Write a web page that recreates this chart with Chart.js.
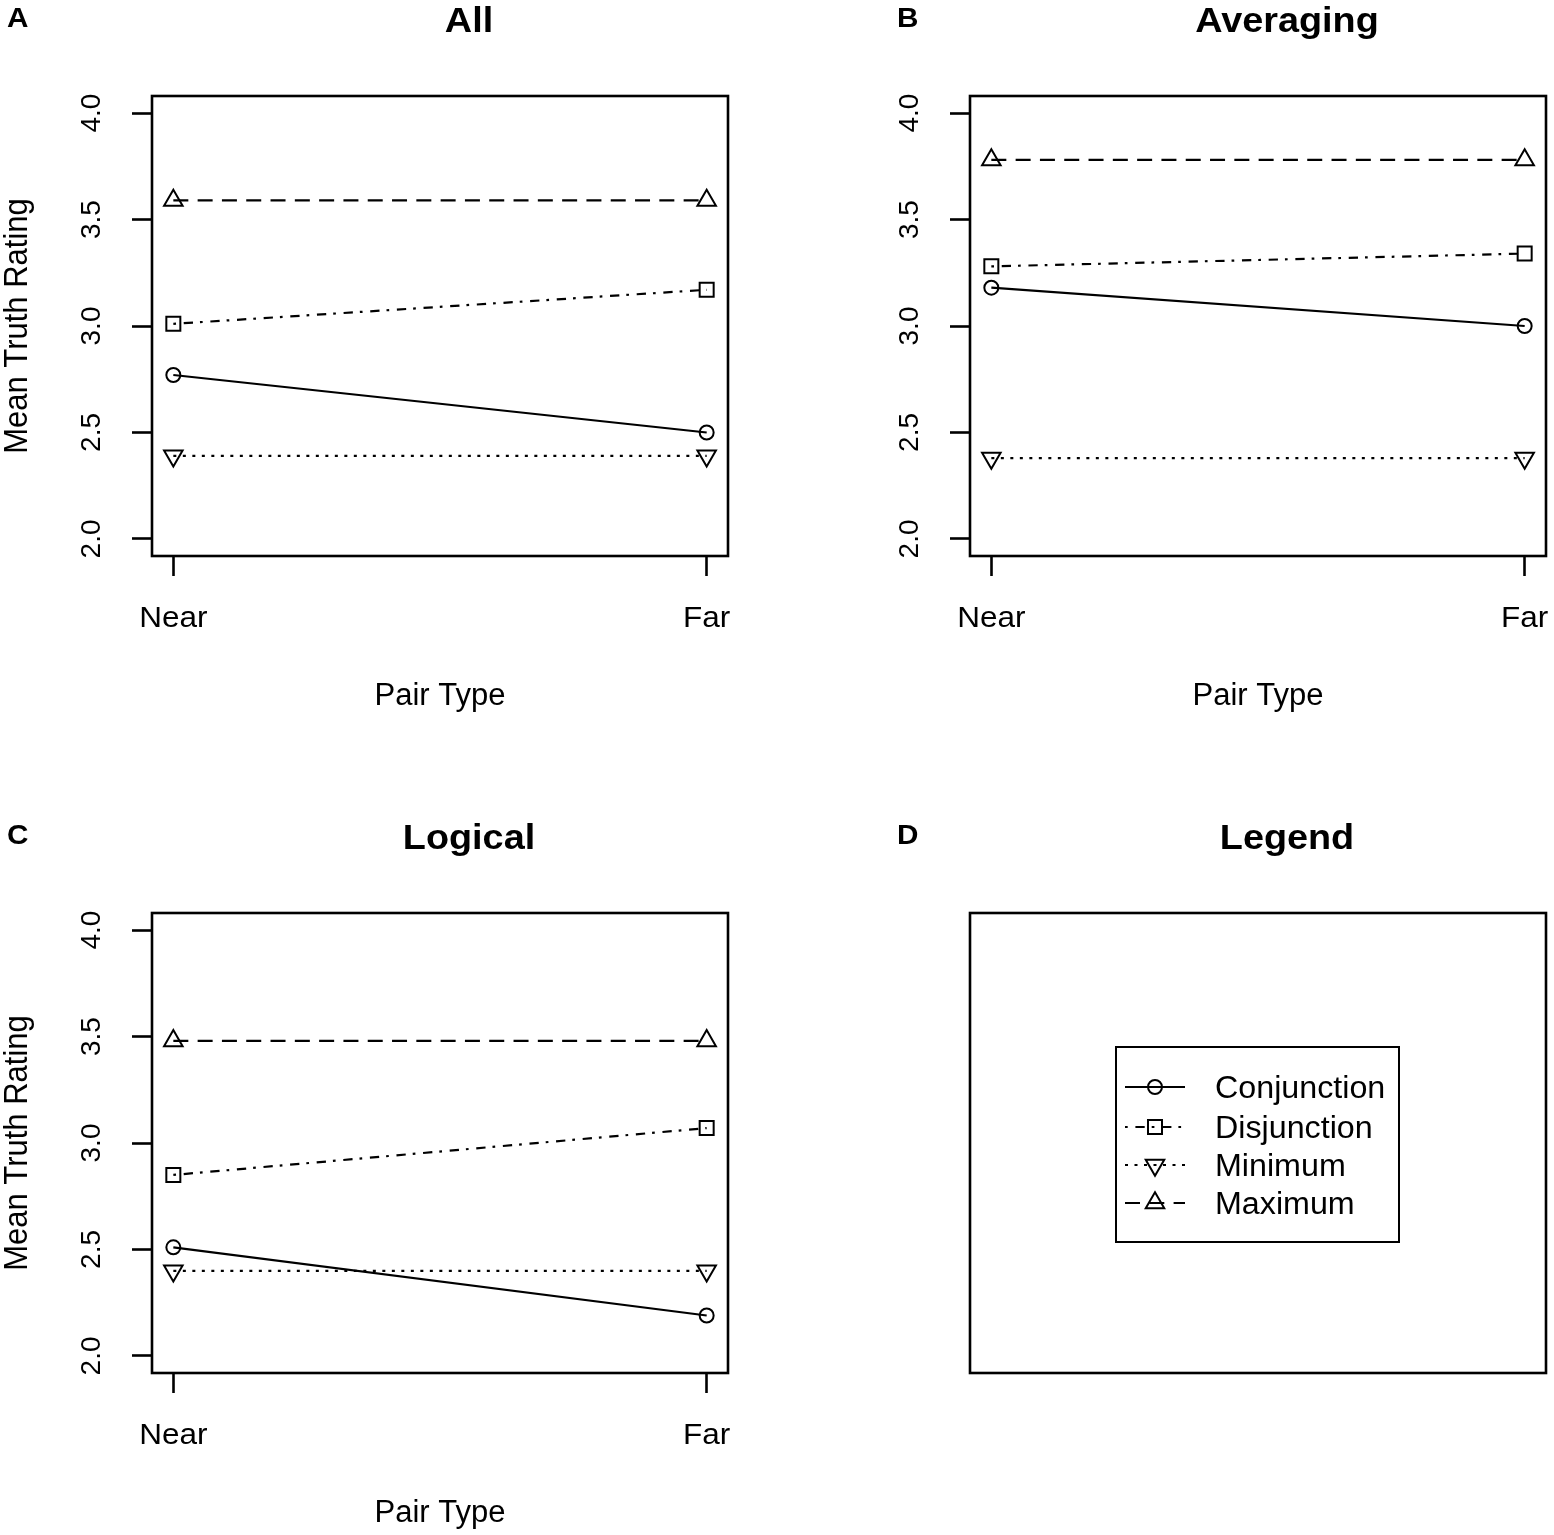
<!DOCTYPE html>
<html>
<head>
<meta charset="utf-8">
<title>Mean Truth Rating by Pair Type</title>
<script src="https://cdn.jsdelivr.net/npm/chart.js@4.4.1/dist/chart.umd.min.js"></script>
<style>
  html, body { margin: 0; padding: 0; background: #fff; overflow: hidden; }
  #fig { position: relative; width: 1554px; height: 1535px; overflow: hidden; background: #fff; }
  #fig canvas { position: absolute; }
</style>
</head>
<body>
<div id="fig">
  <canvas id="panelA" width="818" height="817" style="left:0;top:0"></canvas>
  <canvas id="panelB" width="818" height="817" style="left:818px;top:0"></canvas>
  <canvas id="panelC" width="818" height="817" style="left:0;top:817px"></canvas>
  <canvas id="panelD" width="818" height="817" style="left:818px;top:817px"></canvas>
</div>
<script>
// --- Data
var pairTypes = ["Near", "Far"];
var pairPos = [1, 2];
var yTicks = [2.0, 2.5, 3.0, 3.5, 4.0];
var seriesNames = ["Conjunction", "Disjunction", "Minimum", "Maximum"];

// A: All
var allConj = [2.77, 2.50];
var allDisj = [3.01, 3.17];
var allMin = [2.39, 2.39];
var allMax = [3.59, 3.59];

// B: Averaging
var avgConj = [3.18, 3.00];
var avgDisj = [3.28, 3.34];
var avgMin = [2.38, 2.38];
var avgMax = [3.78, 3.78];

// C: Logical
var logConj = [2.51, 2.19];
var logDisj = [2.85, 3.07];
var logMin = [2.40, 2.40];
var logMax = [3.48, 3.48];

var panelTitles = ["All", "Averaging", "Logical", "Legend"];
var panelLetters = ["A", "B", "C", "D"];
var xTitle = "Pair Type";
var yTitle = "Mean Truth Rating";

(function () {
  "use strict";

  var FONT = "'Liberation Sans', Arial, Helvetica, sans-serif";

  // line type + plotting symbol per series (R style lty / pch)
  var seriesStyle = [
    { point: "circle", rot: 0, radius: 7, dash: [] },
    { point: "rect", rot: 0, radius: 9.9, dash: [2.7, 7.7, 9.3, 7] },
    { point: "triangle", rot: 180, radius: 10.7, dash: [3, 6.5] },
    { point: "triangle", rot: 0, radius: 10.7, dash: [15, 9.3] }
  ];

  function drawText(ctx, s, x, y, font, align, rot, sx) {
    ctx.save();
    ctx.translate(x, y);
    ctx.scale(sx || 1, 1);
    ctx.rotate(rot || 0);
    ctx.font = font;
    ctx.textAlign = align;
    ctx.textBaseline = "alphabetic";
    ctx.fillStyle = "#000";
    ctx.fillText(s, 0, 0);
    ctx.restore();
  }

  function drawMarker(ctx, k, x, y) {
    var st = seriesStyle[k];
    ctx.save();
    ctx.setLineDash([]);
    ctx.strokeStyle = "#000";
    ctx.fillStyle = "rgba(0,0,0,0)";
    ctx.lineWidth = 2;
    Chart.helpers.drawPoint(ctx, { pointStyle: st.point, rotation: st.rot, radius: st.radius, borderWidth: 2 }, x, y);
    ctx.restore();
  }

  // --- Box, titles, tick labels, axis titles, legend
  var panelDecor = {
    id: "panelDecor",
    afterDraw: function (chart, args, opts) {
      var ctx = chart.ctx;
      var a = chart.chartArea;
      ctx.save();
      ctx.setLineDash([]);
      ctx.strokeStyle = "#000";
      ctx.lineWidth = 2.6;
      ctx.strokeRect(a.left, a.top, a.right - a.left, a.bottom - a.top);
      ctx.restore();

      drawText(ctx, opts.letter, opts.letterX, 27, "bold 27px " + FONT, "left", 0, 1.1);
      drawText(ctx, opts.title, 469, 32, "bold 35px " + FONT, "center", 0, 1.08);

      if (opts.axes) {
        var xs = chart.scales.x, ys = chart.scales.y;
        pairTypes.forEach(function (t, i) {
          drawText(ctx, t, xs.getPixelForValue(pairPos[i]), 627, "30px " + FONT, "center", 0, 1.05);
        });
        drawText(ctx, xTitle, (a.left + a.right) / 2, 705, "31px " + FONT, "center", 0, 1);
        yTicks.forEach(function (v) {
          drawText(ctx, v.toFixed(1), 100, ys.getPixelForValue(v), "28px " + FONT, "center", -Math.PI / 2, 1.02);
        });
        if (opts.yTitle) {
          drawText(ctx, yTitle, 27, (a.top + a.bottom) / 2, "31px " + FONT, "center", -Math.PI / 2, 1.08);
        }
      }

      if (opts.legend) {
        ctx.save();
        ctx.strokeStyle = "#000";
        ctx.lineWidth = 2;
        ctx.strokeRect(298, 230, 283, 195);
        var rowY = [270, 310, 348, 386];
        seriesNames.forEach(function (name, k) {
          ctx.save();
          ctx.setLineDash(seriesStyle[k].dash);
          ctx.lineWidth = 2.2;
          ctx.beginPath();
          ctx.moveTo(307, rowY[k]);
          ctx.lineTo(367, rowY[k]);
          ctx.stroke();
          ctx.restore();
          drawMarker(ctx, k, 337, rowY[k]);
          drawText(ctx, name, 397, rowY[k] + 11, "31px " + FONT, "left", 0, 1.04);
        });
        ctx.restore();
      }
    }
  };

  function buildDatasets(series) {
    return series.map(function (vals, k) {
      var st = seriesStyle[k];
      return {
        label: seriesNames[k],
        data: pairPos.map(function (p, i) { return { x: p, y: vals[i] }; }),
        borderColor: "#000",
        borderWidth: 2.2,
        borderDash: st.dash,
        tension: 0,
        pointStyle: st.point,
        pointRotation: st.rot,
        pointRadius: st.radius,
        pointBorderWidth: 2,
        pointBorderColor: "#000",
        pointBackgroundColor: "rgba(0,0,0,0)"
      };
    });
  }

  var tickGrid = {
    display: true,
    drawOnChartArea: false,
    drawTicks: true,
    tickLength: 20,
    tickWidth: 2.6,
    tickColor: "#000"
  };

  function makePanel(id, idx, series, showYTitle, letterX) {
    return new Chart(document.getElementById(id), {
      type: "line",
      data: { datasets: buildDatasets(series) },
      options: {
        responsive: false,
        animation: false,
        events: [],
        layout: { autoPadding: false, padding: { left: 0, top: 96, right: 90, bottom: 0 } },
        plugins: {
          legend: { display: false },
          tooltip: { enabled: false },
          title: { display: false },
          panelDecor: { letter: panelLetters[idx], letterX: letterX, title: panelTitles[idx], axes: true, yTitle: showYTitle }
        },
        scales: {
          x: {
            type: "linear",
            min: 0.96,
            max: 2.04,
            afterBuildTicks: function (s) { s.ticks = pairPos.map(function (v) { return { value: v }; }); },
            afterFit: function (s) { s.height = 261; },
            ticks: { display: false },
            grid: tickGrid,
            border: { display: false }
          },
          y: {
            type: "linear",
            min: 1.92,
            max: 4.08,
            afterBuildTicks: function (s) { s.ticks = yTicks.map(function (v) { return { value: v }; }); },
            afterFit: function (s) { s.width = 152; },
            ticks: { display: false },
            grid: tickGrid,
            border: { display: false }
          }
        }
      },
      plugins: [panelDecor]
    });
  }

  makePanel("panelA", 0, [allConj, allDisj, allMin, allMax], true, 7);
  makePanel("panelB", 1, [avgConj, avgDisj, avgMin, avgMax], false, 79);
  makePanel("panelC", 2, [logConj, logDisj, logMin, logMax], true, 7);

  // --- D: legend only
  new Chart(document.getElementById("panelD"), {
    type: "line",
    data: { datasets: [] },
    options: {
      responsive: false,
      animation: false,
      events: [],
      layout: { autoPadding: false, padding: { left: 152, top: 96, right: 90, bottom: 261 } },
      plugins: {
        legend: { display: false },
        tooltip: { enabled: false },
        panelDecor: { letter: panelLetters[3], letterX: 79, title: panelTitles[3], axes: false, legend: true }
      },
      scales: {
        x: { type: "linear", display: false, min: 0, max: 1 },
        y: { type: "linear", display: false, min: 0, max: 1 }
      }
    },
    plugins: [panelDecor]
  });
})();
</script>
</body>
</html>
